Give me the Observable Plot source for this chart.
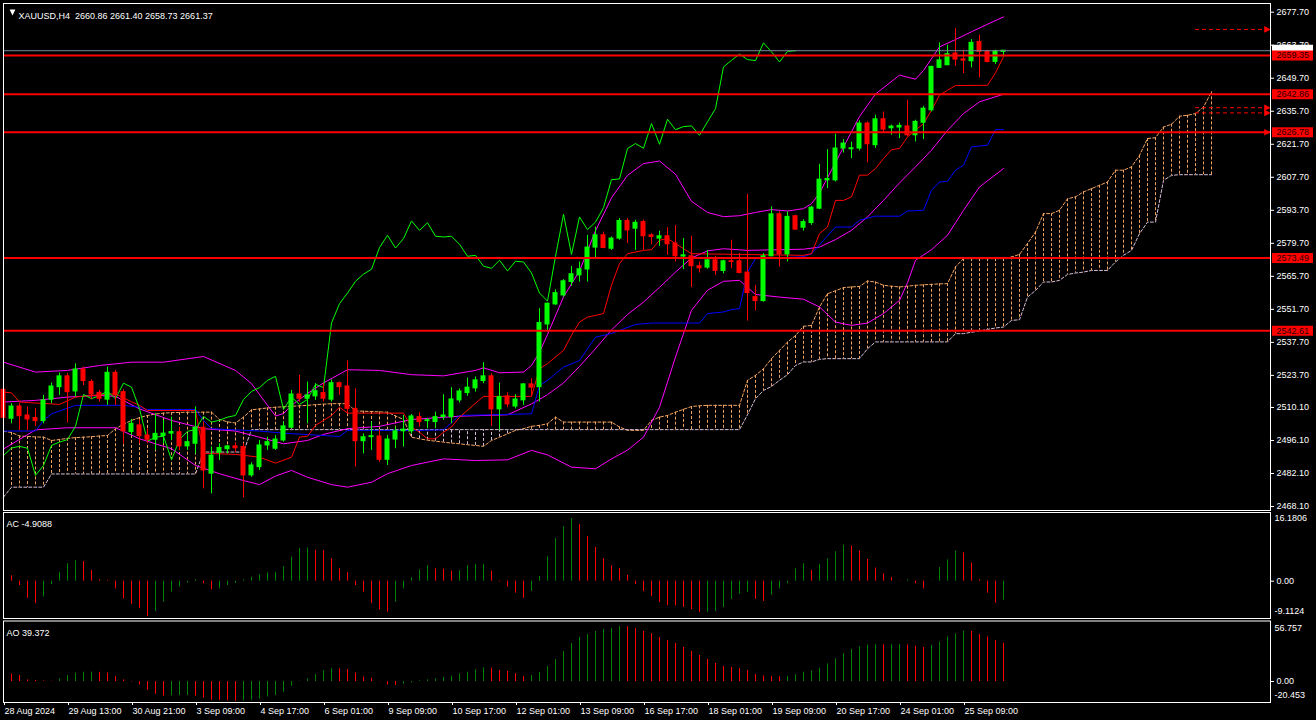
<!DOCTYPE html>
<html><head><meta charset="utf-8">
<script src="https://cdn.jsdelivr.net/npm/d3@7"></script>
<script src="https://cdn.jsdelivr.net/npm/@observablehq/plot@0.6"></script>
<style>
html,body{margin:0;padding:0;background:#000;}
#chart{position:relative;width:1316px;height:720px;background:#000;overflow:hidden;}
#chart svg{position:absolute;left:0;}
</style></head><body><div id="chart"></div>
<script>
// ---------- DATA ----------
const symbolName = "XAUUSD,H4";
const open = [2517.6,2505.3,2510.5,2506.7,2505.6,2504.3,2513.4,2518.7,2523.3,2516.9,
2526.2,2520.9,2516.3,2513.4,2524.8,2516.6,2499.7,2502.5,2498.2,2496.4,
2498.0,2499.0,2499.6,2493.6,2494.7,2501.5,2482.0,2490.9,2492.4,2493.6,
2493.3,2481.3,2484.8,2494.0,2492.6,2496.1,2501.5,2515.6,2513.8,2514.8,
2516.2,2513.4,2520.4,2519.0,2509.5,2495.8,2497.5,2497.8,2487.9,2496.5,
2500.0,2500.0,2506.0,2504.3,2503.9,2506.0,2506.0,2513.1,2516.2,2518.2,
2521.3,2523.3,2509.3,2514.8,2510.5,2513.1,2519.9,2518.7,2545.3,2553.8,
2557.6,2563.3,2566.1,2568.6,2577.9,2583.1,2577.4,2581.7,2589.2,2585.9,
2588.7,2583.1,2581.7,2582.7,2579.6,2574.1,2574.2,2570.0,2569.4,2572.5,
2568.0,2572.1,2572.1,2567.3,2556.9,2555.2,2574.2,2592.0,2575.0,2591.2,
2586.3,2588.3,2594.4,2606.4,2606.4,2619.9,2619.6,2619.9,2630.5,2621.3,
2632.3,2628.5,2628.8,2629.3,2625.5,2630.8,2636.1,2654.1,2655.2,2660.2,
2657.7,2656.9,2665.1,2660.9,2656.6,2660.86];
const high = [2518.8,2511.7,2511.7,2510.3,2509.6,2515.2,2520.4,2524.7,2524.4,2528.6,
2527.2,2521.8,2517.3,2527.2,2525.8,2517.6,2505.0,2504.9,2501.1,2507.4,
2504.6,2506.0,2501.7,2498.9,2510.3,2503.9,2493.3,2494.7,2494.0,2495.0,
2494.7,2486.6,2496.1,2497.5,2498.2,2503.9,2517.3,2523.7,2520.9,2520.2,
2520.2,2521.8,2520.9,2529.8,2518.0,2498.9,2503.9,2500.4,2498.2,2501.8,
2506.7,2507.1,2507.8,2505.4,2508.1,2515.5,2518.5,2518.0,2522.6,2523.0,
2529.1,2524.4,2520.4,2516.3,2515.5,2520.2,2522.3,2552.0,2554.4,2560.0,
2564.3,2569.9,2571.8,2583.1,2586.6,2584.5,2582.4,2590.2,2590.2,2589.5,
2589.5,2583.8,2584.8,2586.3,2587.3,2581.7,2582.7,2571.8,2576.7,2574.2,
2572.5,2581.0,2575.3,2600.5,2561.9,2575.3,2595.1,2593.0,2593.0,2591.6,
2589.7,2595.4,2613.2,2619.4,2626.0,2623.7,2622.6,2631.6,2631.2,2634.0,
2635.4,2629.8,2630.7,2640.4,2631.9,2637.8,2654.8,2664.7,2663.7,2670.8,
2661.6,2666.1,2668.0,2661.6,2661.6,2661.40];
const low = [2503.5,2503.2,2500.3,2500.3,2502.0,2503.2,2511.7,2515.2,2503.5,2514.5,
2519.4,2513.4,2512.4,2511.0,2511.0,2494.7,2498.2,2494.7,2494.7,2491.9,
2494.7,2496.1,2491.9,2491.9,2490.4,2475.6,2473.5,2487.6,2490.4,2490.9,
2471.8,2480.5,2483.4,2491.9,2491.9,2495.4,2501.1,2512.4,2503.2,2513.1,
2512.4,2512.4,2515.2,2507.4,2484.8,2490.4,2491.9,2486.9,2485.5,2492.6,
2493.3,2498.9,2501.8,2501.1,2501.1,2504.6,2503.2,2512.0,2514.8,2516.6,
2520.2,2502.0,2500.4,2510.0,2509.5,2511.0,2514.8,2512.4,2542.8,2553.4,
2556.9,2561.5,2563.3,2563.3,2573.2,2577.4,2576.7,2581.0,2579.6,2576.7,
2576.7,2579.1,2578.4,2574.6,2571.8,2568.5,2560.9,2567.1,2568.7,2566.0,
2566.8,2568.9,2566.8,2546.7,2551.0,2554.8,2574.0,2569.6,2571.8,2585.2,
2584.9,2587.3,2594.0,2602.9,2605.7,2618.0,2615.6,2618.9,2613.8,2619.9,
2626.2,2625.5,2624.1,2624.8,2622.7,2623.7,2635.4,2653.8,2655.2,2654.8,
2651.7,2654.1,2649.8,2656.2,2655.5,2658.73];
const close = [2505.7,2510.5,2506.4,2505.0,2504.3,2513.1,2519.0,2523.3,2516.6,2526.2,
2521.3,2515.6,2513.8,2524.8,2515.2,2500.0,2503.2,2497.9,2496.4,2498.9,
2499.0,2499.7,2493.6,2495.4,2501.5,2483.4,2489.7,2492.9,2493.6,2492.8,
2481.3,2485.5,2494.0,2495.4,2496.5,2502.1,2515.6,2513.8,2515.2,2517.0,
2513.8,2520.4,2518.7,2509.5,2495.8,2497.5,2497.9,2487.9,2496.5,2500.0,
2500.7,2506.3,2503.9,2504.7,2506.0,2506.7,2513.5,2516.9,2518.5,2521.6,
2523.3,2509.3,2514.5,2511.4,2513.5,2519.9,2518.5,2545.9,2554.1,2558.6,
2563.6,2566.6,2568.7,2577.9,2583.1,2577.7,2581.7,2589.2,2585.2,2588.4,
2582.7,2582.4,2582.7,2579.3,2574.2,2574.6,2570.0,2569.1,2572.5,2568.0,
2572.1,2571.8,2567.1,2558.6,2555.2,2574.2,2592.0,2575.0,2590.9,2585.5,
2588.7,2594.8,2606.7,2607.0,2619.9,2622.0,2620.0,2630.5,2621.7,2632.3,
2627.9,2629.2,2629.5,2625.5,2631.2,2636.8,2654.5,2657.3,2659.9,2657.6,
2657.2,2664.7,2660.9,2656.6,2661.1,2661.37];

// Bollinger bands (read at sampled bars: [bar, price])
const bbUpper = [[0,2529.3],[4,2525.1],[8,2525.8],[12,2527.9],[16,2529.3],[20,2529.3],[25,2531.7],[29,2525.8],[31,2520.2],[33,2511.0],[34,2506.5],[35,2507.5],[36,2511.0],[38,2516.0],[40,2520.5],[43,2526.1],[47,2525.8],[51,2524.0],[55,2523.5],[59,2525.8],[60,2526.9],[62,2524.8],[65,2525.1],[66,2527.9],[67,2533.5],[68,2541.0],[70,2557.0],[72,2568.0],[74,2585.0],[76,2599.0],[78,2608.5],[80,2613.5],[82,2614.6],[84,2609.0],[86,2597.5],[88,2592.8],[90,2591.0],[92,2591.4],[94,2592.8],[96,2594.0],[98,2593.4],[100,2594.4],[101,2596.5],[102,2601.0],[104,2614.0],[107,2633.5],[109,2643.0],[112,2651.0],[114,2649.3],[115,2653.0],[117,2663.0],[119,2666.1],[121,2669.4],[123,2672.6],[125,2675.7]];
const bbMid = [[0,2512.4],[4,2513.1],[8,2514.5],[12,2515.2],[14,2514.8],[17,2509.5],[21,2504.6],[25,2501.1],[29,2500.1],[32,2497.5],[35,2494.7],[38,2496.1],[40,2498.7],[43,2501.1],[47,2502.1],[51,2505.0],[57,2506.4],[63,2507.0],[66,2511.6],[68,2515.5],[70,2520.5],[72,2527.5],[74,2535.0],[76,2543.0],[78,2549.5],[80,2554.8],[82,2561.0],[84,2567.5],[86,2573.5],[88,2576.5],[90,2577.4],[93,2576.7],[97,2577.0],[100,2577.2],[102,2578.1],[104,2581.3],[106,2585.2],[108,2590.9],[110,2597.9],[112,2605.3],[114,2612.1],[116,2619.2],[118,2627.6],[120,2634.7],[122,2639.7],[125,2642.9]];
const bbLow = [[0,2492.5],[4,2500.6],[8,2501.5],[14,2501.5],[17,2496.8],[21,2492.6],[24,2485.5],[27,2482.0],[30,2479.1],[32,2477.4],[34,2481.0],[36,2483.4],[38,2480.5],[41,2477.4],[43,2476.3],[46,2478.4],[48,2482.0],[51,2485.5],[55,2488.3],[59,2487.6],[63,2487.9],[66,2491.9],[68,2490.0],[71,2484.8],[74,2484.1],[76,2488.3],[78,2492.0],[80,2497.5],[82,2510.2],[84,2531.5],[86,2551.3],[88,2559.8],[90,2563.6],[92,2564.0],[94,2558.0],[97,2556.9],[100,2556.0],[102,2552.7],[104,2546.3],[106,2544.9],[108,2545.9],[110,2549.9],[112,2555.5],[113,2563.0],[114,2572.5],[116,2577.0],[118,2583.1],[120,2593.7],[122,2603.6],[125,2611.4]];

// Ichimoku lines
const tenkan = [[0,2516.6],[1,2516.3],[2,2512.4],[7,2511.4],[9,2514.5],[11,2515.2],[14,2515.9],[16,2512.5],[17,2511.0],[18,2508.8],[24,2508.8],[25,2490.7],[29,2490.2],[32,2489.0],[34,2486.5],[36,2489.0],[37,2497.5],[38,2497.9],[39,2502.5],[41,2506.7],[42,2510.2],[43,2507.7],[50,2507.7],[51,2501.8],[52,2499.6],[53,2496.8],[54,2496.8],[55,2499.6],[56,2501.8],[57,2506.0],[60,2514.8],[66,2514.8],[67,2526.5],[68,2528.7],[70,2534.3],[71,2540.7],[72,2546.3],[73,2548.4],[75,2549.9],[76,2562.0],[77,2571.1],[78,2575.3],[80,2576.7],[81,2577.0],[82,2581.0],[83,2581.7],[84,2579.6],[85,2577.4],[86,2575.3],[100,2574.6],[101,2575.3],[102,2583.8],[103,2586.6],[104,2597.9],[105,2597.9],[106,2599.4],[107,2608.6],[108,2608.6],[109,2611.4],[110,2615.6],[111,2619.4],[112,2619.9],[113,2624.8],[115,2630.5],[116,2636.1],[117,2642.5],[118,2644.6],[119,2646.6],[123,2646.7],[124,2652.0],[125,2658.8]];
const kijun = [[0,2500.1],[4,2500.1],[5,2504.6],[6,2507.4],[9,2511.0],[15,2511.0],[17,2510.2],[18,2509.2],[24,2509.2],[25,2504.6],[26,2501.1],[32,2500.1],[35,2499.2],[42,2497.8],[43,2500.4],[52,2500.4],[55,2500.6],[57,2506.7],[66,2507.4],[67,2519.4],[68,2521.6],[70,2527.2],[72,2530.0],[74,2539.9],[76,2541.5],[79,2545.3],[81,2545.9],[87,2545.9],[88,2549.9],[90,2550.6],[91,2551.6],[92,2552.0],[93,2567.5],[94,2573.2],[100,2574.0],[101,2575.3],[104,2586.6],[106,2586.6],[107,2589.5],[109,2591.2],[112,2591.2],[113,2593.4],[115,2593.7],[116,2602.2],[117,2605.7],[118,2606.0],[119,2610.7],[120,2612.8],[121,2620.6],[123,2621.3],[124,2627.9],[125,2627.9]];
const chikouShift = 26;
const spanA = [2500.0,2499.5,2498.0,2497.8,2497.6,2497.5,2496.1,2496.5,2497.0,2497.3,
2497.5,2497.7,2498.0,2498.2,2501.1,2503.0,2504.6,2505.8,2506.7,2507.3,
2507.7,2507.9,2508.0,2508.1,2508.1,2508.1,2508.1,2505.0,2504.0,2503.5,
2506.0,2509.1,2509.5,2509.9,2510.2,2510.4,2510.6,2510.8,2511.0,2511.3,
2511.5,2511.7,2511.7,2511.7,2508.6,2508.5,2508.4,2508.2,2508.1,2506.5,
2505.0,2497.5,2496.8,2496.2,2495.8,2495.4,2495.0,2494.7,2494.3,2494.0,
2493.6,2496.1,2497.5,2498.9,2500.4,2501.1,2502.1,2502.5,2503.2,2506.0,
2503.9,2503.9,2503.9,2503.9,2503.9,2503.9,2503.9,2501.8,2500.4,2500.4,
2500.4,2504.6,2506.0,2506.7,2508.1,2509.3,2510.5,2510.8,2511.0,2511.0,
2511.0,2511.0,2511.0,2521.6,2523.7,2526.5,2530.8,2534.3,2537.8,2540.6,
2544.5,2544.9,2552.7,2558.3,2559.6,2560.9,2561.2,2561.4,2563.7,2563.3,
2561.9,2561.5,2561.2,2561.5,2561.9,2562.1,2562.3,2562.5,2562.6,2569.7,
2573.2,2573.2,2573.2,2573.2,2573.2,2573.2,2573.9,2575.0,2579.6,2584.5,
2592.3,2592.3,2593.7,2598.6,2599.4,2601.5,2602.9,2604.3,2605.7,2610.7,
2610.7,2612.1,2617.0,2624.1,2624.5,2629.0,2630.2,2633.6,2634.0,2634.7,
2637.5,2643.9];
const spanB = [2472.1,2476.3,2476.3,2476.3,2476.3,2476.3,2481.9,2481.9,2481.9,2481.9,
2481.9,2481.9,2481.9,2481.9,2481.9,2481.9,2481.9,2481.9,2481.9,2481.9,
2481.9,2481.9,2481.9,2481.9,2481.9,2491.2,2491.2,2491.2,2491.2,2491.2,
2491.2,2500.7,2500.7,2500.7,2500.7,2500.7,2500.7,2500.7,2500.7,2500.7,
2500.7,2500.7,2500.7,2500.7,2500.7,2500.7,2500.7,2500.7,2500.7,2500.7,
2500.7,2500.7,2500.7,2500.7,2500.7,2500.7,2500.7,2500.7,2500.7,2500.7,
2500.7,2500.7,2500.7,2500.7,2500.7,2500.7,2500.7,2500.7,2500.7,2500.7,
2500.7,2500.7,2500.7,2500.7,2500.7,2500.7,2500.7,2500.7,2500.7,2500.7,
2500.7,2500.7,2500.7,2500.7,2500.7,2500.7,2500.7,2500.7,2500.7,2500.7,
2500.7,2500.7,2500.7,2507.0,2513.8,2517.3,2519.0,2521.6,2524.0,2527.9,
2529.4,2529.4,2530.5,2530.8,2530.8,2530.8,2530.8,2530.8,2535.0,2537.9,
2537.9,2537.9,2537.9,2537.9,2537.9,2537.9,2537.9,2537.9,2537.9,2541.4,
2541.4,2542.0,2542.5,2543.2,2543.8,2544.2,2547.0,2547.3,2556.9,2559.7,
2563.3,2563.3,2564.0,2566.5,2567.1,2567.5,2568.2,2568.2,2568.2,2571.8,
2574.6,2576.7,2583.8,2588.7,2588.7,2606.4,2608.5,2608.8,2608.8,2608.8,
2608.8,2608.8];

// Horizontal objects
const levels = [2659.35, 2642.86, 2626.78, 2573.49, 2542.61];
const pendingLevels = [2670.4, 2637.2, 2635.0];
const arrowLevels = [2670.4, 2637.2, 2635.0, 2626.78];
const priceTicks = [2677.70,2663.70,2649.70,2635.70,2621.70,2607.70,2593.70,2579.70,2565.70,2551.70,2537.70,2523.70,2510.10,2496.10,2482.10,2468.10];

// Oscillators
const ac = [2.5,1.4,-1.1,-4.4,-5.8,-4.1,-0.9,2.3,4.5,5.3,
5.1,2.8,0.3,0.2,-2.0,-4.6,-6.0,-7.1,-9.1124,-7.8,
-5.4,-2.8,-1.5,-0.5,0.4,-0.7,-2.2,-2.0,-1.1,-0.6,
0.3,1.0,1.7,2.1,2.3,3.8,6.2,8.4,8.6,8.0,
7.9,5.8,3.2,2.2,-1.1,-2.8,-5.8,-7.4,-8.0,-5.4,
-2.0,0.9,2.9,4.0,3.2,3.1,2.6,2.7,4.0,4.3,
4.35,2.6,-0.2,-1.55,-3.1,-4.4,-2.6,1.2,6.3,11.0,
14.1,16.1806,14.6,11.5,8.7,5.8,4.0,3.3,1.5,-0.86,
-2.7,-4.0,-5.5,-6.3,-6.4,-6.8,-7.3,-8.1,-8.0,-7.8,
-6.8,-4.7,-3.4,-2.9,-4.7,-5.2,-3.6,-2.0,-0.7,3.2,
4.5,2.8,4.3,5.8,7.6,9.3,9.1,7.8,5.6,3.4,
1.9,1.0,-0.1,0.3,-0.7,-2.0,0.1,3.5,5.5,7.8,
7.3,4.7,0.3,-3.1,-5.7,-4.9088];
const ao = [7.9,7.8,6.2,1.7,1.0,0.7,0.4,2.8,6.2,8.6,
9.6,9.7,9.5,8.6,5.2,1.7,-0.6,-3.7,-9.0,-13.1,
-15.0,-14.8,-14.5,-14.4,-15.0,-17.1,-19.3,-19.4,-20.0,-20.453,
-20.2,-19.2,-18.0,-16.0,-14.4,-11.1,-4.9,0.4,2.8,7.2,
11.4,13.1,13.0,12.4,8.6,4.5,3.4,-0.3,-3.8,-4.2,
-2.8,-1.5,0.7,1.7,2.8,4.1,5.5,7.9,9.6,12.0,
14.1,13.8,11.4,10.3,8.3,5.2,6.2,9.3,15.5,22.7,
31.0,39.2,45.4,48.5,51.6,53.7,54.7,56.757,56.5,54.7,
51.6,49.5,45.4,42.3,39.2,35.1,31.0,26.8,22.7,18.6,
15.5,14.4,13.4,11.4,7.2,5.8,5.2,4.9,5.3,7.0,
9.6,11.0,13.8,18.2,23.4,28.6,33.0,36.0,37.5,37.9,
37.8,37.9,38.0,37.6,36.5,35.0,37.2,40.6,45.8,49.2,
52.0,51.6,48.5,45.8,42.3,39.372];

const xTickBars = [0,8,16,24,32,40,48,56,64,72,80,88,96,104,112,120];
const xTickLabels = ["28 Aug 2024","29 Aug 13:00","30 Aug 21:00","3 Sep 09:00","4 Sep 17:00","6 Sep 01:00","9 Sep 09:00","10 Sep 17:00","12 Sep 01:00","13 Sep 09:00","16 Sep 17:00","18 Sep 01:00","19 Sep 09:00","20 Sep 17:00","24 Sep 01:00","25 Sep 09:00"];

// ---------- BUILD ----------
const W = 1316;
const xDomain = [0, 158.375];
const FONT = "'Liberation Sans', Arial, sans-serif";
const baseStyle = {background: "#000", color: "#fff", fontFamily: FONT, fontSize: "9px", overflow: "visible"};
const common = {width: W, marginLeft: 3, marginRight: 46, style: baseStyle};
const BULL = "#00ff00", BEAR = "#ff0000";
const last = close.length - 1;
const f2 = d => d.toFixed(2);

const candles = close.map((c, i) => ({i, open: open[i], high: high[i], low: low[i], close: c}));
const cColor = d => d.close >= d.open ? BULL : BEAR;
const cloud = spanA.map((a, i) => ({i, a, b: spanB[i]}));
const chikou = close.map((c, i) => ({i: i - chikouShift, c})).filter(d => d.i >= 0);
const pts = arr => arr.map(([i, v]) => ({i, v}));
const bid = close[last];
const header = `${symbolName}\u00a0\u00a0${f2(open[last])} ${f2(high[last])} ${f2(low[last])} ${f2(close[last])}`;

// right-pointing arrow head symbol
const arrowRight = {draw(ctx, size) { const r = Math.sqrt(size) / 1.6; ctx.moveTo(r, 0); ctx.lineTo(-r, -r); ctx.lineTo(-r, r); ctx.closePath(); }};
const arrowDown = {draw(ctx, size) { const r = Math.sqrt(size) / 1.6; ctx.moveTo(0, r); ctx.lineTo(-r, -r); ctx.lineTo(r, -r); ctx.closePath(); }};

const main = Plot.plot({
  ...common, height: 511, marginTop: 3, marginBottom: 1,
  x: {domain: xDomain, axis: null},
  y: {domain: [2466.41, 2681.39], label: null},
  marks: [
    Plot.ruleX(cloud, {x: "i", y1: "a", y2: "b", stroke: d => d.a >= d.b ? "#f4a460" : "#d8bfd8", strokeDasharray: "3,2", strokeWidth: 1}),
    Plot.line(cloud, {x: "i", y: "a", stroke: "#f4a460", strokeDasharray: "3,2", strokeWidth: 1}),
    Plot.line(cloud, {x: "i", y: "b", stroke: "#d8bfd8", strokeDasharray: "3,2", strokeWidth: 1}),
    Plot.line(pts(bbUpper), {x: "i", y: "v", stroke: "#ff00ff", strokeWidth: 1}),
    Plot.line(pts(bbMid), {x: "i", y: "v", stroke: "#ff00ff", strokeWidth: 1}),
    Plot.line(pts(bbLow), {x: "i", y: "v", stroke: "#ff00ff", strokeWidth: 1}),
    Plot.line(pts(kijun), {x: "i", y: "v", stroke: "#0000ff", strokeWidth: 1}),
    Plot.line(pts(tenkan), {x: "i", y: "v", stroke: "#ff0000", strokeWidth: 1}),
    Plot.line(chikou, {x: "i", y: "c", stroke: "#00ff00", strokeWidth: 1}),
    Plot.ruleX(candles, {x: "i", y1: "low", y2: "high", stroke: cColor, strokeWidth: 1}),
    Plot.rect(candles, {x1: d => d.i - 0.3125, x2: d => d.i + 0.3125, y1: "open", y2: "close", fill: cColor, insetTop: -0.5, insetBottom: -0.5}),
    Plot.ruleY([bid], {stroke: "#778899", strokeWidth: 1}),
    Plot.ruleY(levels, {stroke: "#ff0000", strokeWidth: 2}),
    Plot.ruleY(pendingLevels, {stroke: "#ff0000", strokeDasharray: "4,3", strokeWidth: 1, insetLeft: 1192}),
    Plot.dot(arrowLevels, {y: d => d, frameAnchor: "right", dx: -3, symbol: arrowRight, r: 3, fill: "#ff0000", stroke: "none"}),
    Plot.axisY(priceTicks, {anchor: "right", tickSize: 3, tickPadding: 3, tickFormat: f2, label: null}),
    Plot.ruleY([bid], {stroke: "#ffffff", strokeWidth: 12, insetLeft: 1269, insetRight: -43}),
    Plot.ruleY(levels, {stroke: "#ff0000", strokeWidth: 10, insetLeft: 1269, insetRight: -43}),
    Plot.text(levels, {y: d => d, text: f2, frameAnchor: "right", dx: 6, textAnchor: "start", fill: "#2a0000"}),
    Plot.dot([header], {frameAnchor: "top-left", dx: 9, dy: 9, symbol: arrowDown, r: 2.6, fill: "#fff", stroke: "none"}),
    Plot.text([header], {text: d => d, frameAnchor: "top-left", dx: 15, dy: 9, textAnchor: "start", fill: "#fff"}),
    Plot.frame({stroke: "#fff"})
  ]
});

const osc = (arr) => arr.map((v, i) => ({i, v, up: i === 0 || v > arr[i - 1]}));
const oscColor = d => d.up ? "#008000" : "#ff0000";

const acPlot = Plot.plot({
  ...common, height: 108, marginTop: 1, marginBottom: 1,
  x: {domain: xDomain, axis: null},
  y: {domain: [-9.626, 17.73], label: null},
  marks: [
    Plot.ruleX(osc(ac), {x: "i", y1: 0, y2: "v", stroke: oscColor, strokeWidth: 1}),
    Plot.axisY([0], {anchor: "right", tickSize: 3, tickPadding: 3, tickFormat: f2, label: null}),
    Plot.text([d3.max(ac)], {y: d => d, text: d => String(d), frameAnchor: "right", dx: 4, textAnchor: "start"}),
    Plot.text([d3.min(ac)], {y: d => d, text: d => String(d), frameAnchor: "right", dx: 4, dy: -5, textAnchor: "start"}),
    Plot.text([`AC ${ac[last]}`], {text: d => d, frameAnchor: "top-left", dx: 3, dy: 8, textAnchor: "start"}),
    Plot.frame({stroke: "#fff"})
  ]
});

const aoPlot = Plot.plot({
  ...common, height: 101, marginTop: 1.5, marginBottom: 18,
  x: {domain: xDomain, label: null},
  y: {domain: [-21.67, 62.44], label: null},
  marks: [
    Plot.ruleX(osc(ao), {x: "i", y1: 0, y2: "v", stroke: oscColor, strokeWidth: 1}),
    Plot.axisY([0], {anchor: "right", tickSize: 3, tickPadding: 3, tickFormat: f2, label: null}),
    Plot.text([d3.max(ao)], {y: d => d, text: d => String(d), frameAnchor: "right", dx: 4, dy: 2, textAnchor: "start"}),
    Plot.text([d3.min(ao)], {y: d => d, text: d => String(d), frameAnchor: "right", dx: 4, dy: -6, textAnchor: "start"}),
    Plot.text([`AO ${ao[last]}`], {text: d => d, frameAnchor: "top-left", dx: 3, dy: 9, textAnchor: "start"}),
    Plot.axisX(xTickBars, {anchor: "bottom", tickSize: 3, tickPadding: 2, textAnchor: "start", dx: 1, label: null, tickFormat: d => xTickLabels[xTickBars.indexOf(d)]}),
    Plot.frame({stroke: "#fff"})
  ]
});

const chart = document.getElementById("chart");
main.style.top = "0px";
acPlot.style.top = "511px";
aoPlot.style.top = "619px";
chart.append(main, acPlot, aoPlot);
</script></body></html>
